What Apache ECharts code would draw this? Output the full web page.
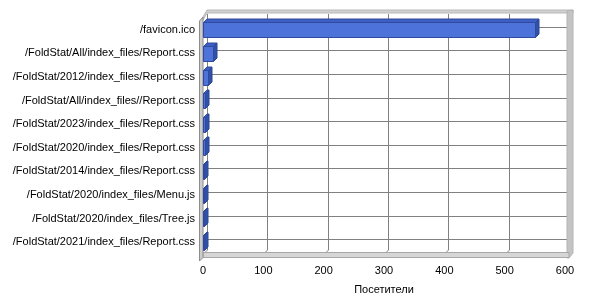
<!DOCTYPE html>
<html>
<head>
<meta charset="utf-8">
<script src="https://cdn.jsdelivr.net/npm/echarts@6/dist/echarts.min.js"></script>
<style>html,body{margin:0;padding:0;background:#fff;}#c{width:600px;height:300px;}</style>
</head>
<body>
<div id="c"></div>
<script>
const categories = [
  '/favicon.ico',
  '/FoldStat/All/index_files/Report.css',
  '/FoldStat/2012/index_files/Report.css',
  '/FoldStat/All/index_files//Report.css',
  '/FoldStat/2023/index_files/Report.css',
  '/FoldStat/2020/index_files/Report.css',
  '/FoldStat/2014/index_files/Report.css',
  '/FoldStat/2020/index_files/Menu.js',
  '/FoldStat/2020/index_files/Tree.js',
  '/FoldStat/2021/index_files/Report.css'
];
const visitors = [551, 16, 8, 4, 3, 3, 2, 2, 2, 2];
const xTicks = [0, 100, 200, 300, 400, 500, 600];
const axisName = 'Посетители';

const FONT = '"Liberation Sans", Arial, sans-serif';
const D = 4;
const GRID_COLOR = '#808080';

const chart = echarts.init(document.getElementById('c'), null, {renderer: 'canvas'});

function wallsRender(params, api) {
  const cs = params.coordSys;
  const Y0 = cs.y, Y1 = cs.y + cs.height;
  const X0 = api.coord([xTicks[0], 0])[0];
  const X1 = api.coord([xTicks[xTicks.length - 1], 0])[0];
  const ch = [];
  // vertical grid lines on back wall + floor diagonals
  xTicks.forEach(function (v) {
    const x = Math.round(api.coord([v, 0])[0]) + 0.5;
    ch.push({type: 'polyline', shape: {points: [[x + D, Y0 - D], [x + D, Y1 - D], [x, Y1]]},
      style: {stroke: GRID_COLOR, lineWidth: 1, fill: null}});
  });
  // horizontal grid lines at category centres on back wall
  categories.forEach(function (c, i) {
    const y = Math.round(api.coord([0, i])[1] - 3) + 0.5;
    ch.push({type: 'line', shape: {x1: X0 + D, y1: y, x2: X1 + D, y2: y},
      style: {stroke: GRID_COLOR, lineWidth: 1}});
  });
  // top edge of back wall
  ch.push({type: 'polygon', shape: {points: [[X0, Y0 - 1], [X0 + D, Y0 - D - 4], [X1 + 8, Y0 - D - 4], [X1 + 8, Y0 - D - 1], [X0 + D, Y0 - D - 1], [X0, Y0 + 2]]},
    style: {fill: '#d0d0d0', stroke: '#b8b8b8', lineWidth: 1}});
  // right edge strip
  ch.push({type: 'polygon', shape: {points: [[X1 + 2, Y0 - D - 3], [X1 + 8, Y0 - D - 4], [X1 + 8, Y1 - 1], [X1 + 4, Y1 + 4], [X1 + 2, Y1 + 4]]},
    style: {fill: '#c4c4c4', stroke: '#b4b4b4', lineWidth: 1}});
  // floor band
  ch.push({type: 'polygon', shape: {points: [[X0, Y1 - 1.5], [X1 + 4, Y1 - 1.5], [X1 + 4, Y1 + 3.5], [X0, Y1 + 3.5]]},
    style: {fill: '#d6d6d6', stroke: '#a8a8a8', lineWidth: 1}});
  // left wall strip
  ch.push({type: 'polygon', shape: {points: [[X0 - 3.5, Y0 + 3], [X0, Y0 - 1], [X0, Y1 + 3.5], [X0 - 3.5, Y1 + 7]]},
    style: {fill: '#cccccc', stroke: '#8c8c8c', lineWidth: 1}});
  return {type: 'group', children: ch};
}

function barsRender(params, api) {
  const v = api.value(0), i = api.value(1);
  const p0 = api.coord([0, i]);
  const p1 = api.coord([v, i]);
  const band = api.size([0, 1])[1];
  const h = Math.round(band * 0.64);
  const x0 = Math.round(p0[0]) + 0.5;
  const x1 = Math.max(Math.round(p1[0]) + 0.5, x0 + 1);
  const top = Math.round(p0[1] - h / 2) + 0.5;
  const bottom = top + h;
  const d = 3.5;
  return {type: 'group', children: [
    {type: 'polygon', shape: {points: [[x0, top], [x0 + d, top - d], [x1 + d, top - d], [x1, top]]},
      style: {fill: '#3d5fc4', stroke: '#2f4b9f', lineWidth: 1}},
    {type: 'polygon', shape: {points: [[x1, top], [x1 + d, top - d], [x1 + d, bottom - d], [x1, bottom]]},
      style: {fill: '#3150a8', stroke: '#2b4696', lineWidth: 1}},
    {type: 'rect', shape: {x: x0, y: top, width: x1 - x0, height: h},
      style: {fill: '#4d72d9', stroke: '#2f4b9f', lineWidth: 1}}
  ]};
}

chart.setOption({
  animation: false,
  backgroundColor: '#ffffff',
  grid: {left: 203, right: 35, top: 18, bottom: 45, containLabel: false},
  xAxis: {
    type: 'value', min: 0, max: 600, interval: 100,
    axisLine: {show: false}, axisTick: {show: false}, splitLine: {show: false},
    axisLabel: {fontFamily: FONT, fontSize: 11, color: '#000', margin: 11},
    name: axisName, nameLocation: 'middle', nameGap: 30,
    nameTextStyle: {fontFamily: FONT, fontSize: 11, color: '#000'}
  },
  yAxis: {
    type: 'category', data: categories, inverse: true, offset: 4,
    axisLine: {show: false},
    axisTick: {show: true, alignWithLabel: true, length: 3, lineStyle: {color: '#808080'}},
    splitLine: {show: false},
    axisLabel: {fontFamily: FONT, fontSize: 11, color: '#000', margin: 4}
  },
  series: [
    {type: 'custom', renderItem: wallsRender, data: [[0, 0]], encode: {x: 0, y: 1}, silent: true, z: 1},
    {type: 'custom', renderItem: barsRender, data: visitors.map(function (v, i) { return [v, i]; }), encode: {x: 0, y: 1}, z: 2}
  ]
});
</script>
</body>
</html>
